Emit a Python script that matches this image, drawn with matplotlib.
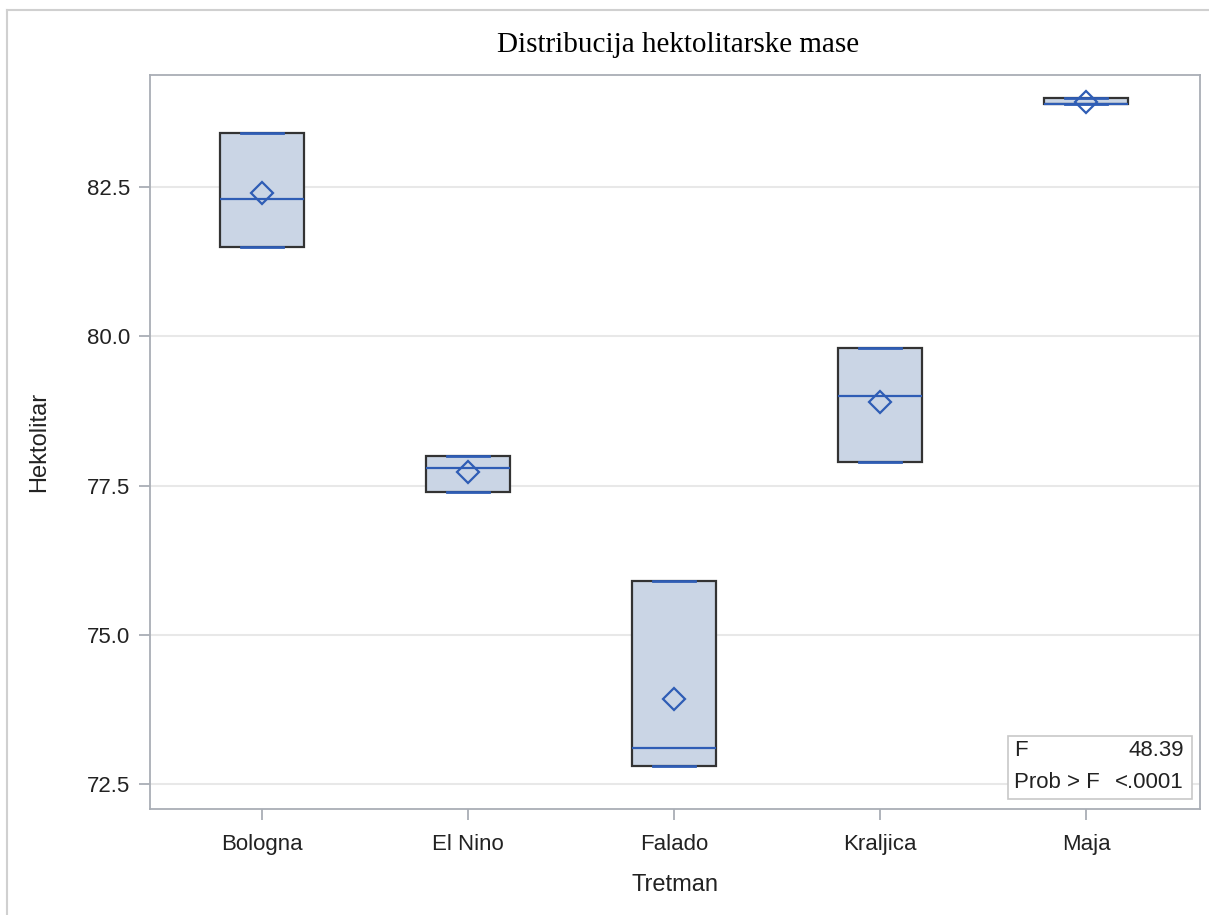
import matplotlib
matplotlib.use("Agg")
import matplotlib.pyplot as plt
from matplotlib.patches import Rectangle

categories = ["Bologna", "El Nino", "Falado", "Kraljica", "Maja"]
q_min = [81.5, 77.4, 72.8, 77.9, 83.9]
q1 = [81.5, 77.4, 72.8, 77.9, 83.9]
median = [82.3, 77.8, 73.1, 79.0, 83.9]
q3 = [83.4, 78.0, 75.9, 79.8, 84.0]
q_max = [83.4, 78.0, 75.9, 79.8, 84.0]
mean = [82.4, 77.73, 73.93, 78.9, 83.93]
yticks = [72.5, 75.0, 77.5, 80.0, 82.5]
f_value = "48.39"
p_value = "<.0001"

FS = "Liberation Sans"
TXT = "#222222"
fig = plt.figure(figsize=(12.09, 9.15), dpi=100)
W, H = 1209, 915
ax = fig.add_axes([150 / W, 1 - 809 / H, 1050 / W, 734 / H])

# outer frame lines (top & left)
fig.add_artist(plt.Line2D([7 / W, 7 / W], [0, 1 - 10 / H], transform=fig.transFigure, color="#d0d0d0", lw=1.5))
fig.add_artist(plt.Line2D([7 / W, 1], [1 - 10 / H, 1 - 10 / H], transform=fig.transFigure, color="#d0d0d0", lw=1.5))

stats = []
for i, c in enumerate(categories):
    stats.append(dict(label=c, whislo=q_min[i], q1=q1[i], med=median[i], q3=q3[i], whishi=q_max[i],
                      mean=mean[i], fliers=[]))

blue = "#2F5DB5"
ax.bxp(stats, positions=range(len(categories)), widths=0.41, patch_artist=True, showmeans=True,
       boxprops=dict(facecolor="#CAD5E5", edgecolor="#333333", linewidth=1.6),
       medianprops=dict(color=blue, linewidth=1.6),
       whiskerprops=dict(color=blue, linewidth=1.6),
       capprops=dict(color=blue, linewidth=2.0),
       capwidths=0.2,
       meanprops=dict(marker="D", markersize=11, markerfacecolor="none", markeredgecolor=blue, markeredgewidth=1.6),
       zorder=3)

ax.set_xlim(-0.544, 4.553)
ax.set_ylim(72.08, 84.38)
ax.set_yticks(yticks)
ax.set_yticklabels([f"{v:.1f}" for v in yticks])
ax.set_xticks(range(len(categories)))
ax.set_xticklabels(categories)
ax.yaxis.grid(True, color="#e8e8e8", linewidth=1.5, zorder=0)
ax.set_axisbelow(True)
for s in ax.spines.values():
    s.set_color("#a9aeb5")
    s.set_linewidth(1.3)
ax.tick_params(axis="both", direction="out", length=8, width=1.3, color="#a9aeb5",
               labelsize=16, labelcolor=TXT)
ax.tick_params(axis="x", pad=10)
ax.tick_params(axis="y", pad=6)
for lab in ax.get_xticklabels() + ax.get_yticklabels():
    lab.set_family(FS)

ax.set_xlabel("Tretman", fontsize=17, family=FS, color=TXT, labelpad=14)
ax.set_ylabel("Hektolitar", fontsize=17, family=FS, color=TXT, labelpad=27)
fig.text(678 / W, 1 - 45 / H, "Distribucija hektolitarske mase", ha="center", va="center",
         fontsize=21, family="Liberation Serif", color="#000000")

# inset stat box
bx0, by0, bx1, by1 = 1008, 736, 1192, 799
fig.add_artist(Rectangle((bx0 / W, 1 - by1 / H), (bx1 - bx0) / W, (by1 - by0) / H,
                         transform=fig.transFigure, facecolor="white", edgecolor="#c8c8c8", lw=1.2))
fig.text(1014 / W, 1 - 751 / H, "F", ha="left", va="center", fontsize=16, family=FS, color=TXT)
fig.text(1184 / W, 1 - 751 / H, f_value, ha="right", va="center", fontsize=16, family=FS, color=TXT)
fig.text(1014 / W, 1 - 782 / H, "Prob > F", ha="left", va="center", fontsize=16, family=FS, color=TXT)
fig.text(1184 / W, 1 - 782 / H, p_value, ha="right", va="center", fontsize=16, family=FS, color=TXT)

fig.savefig("out.png", dpi=100)
